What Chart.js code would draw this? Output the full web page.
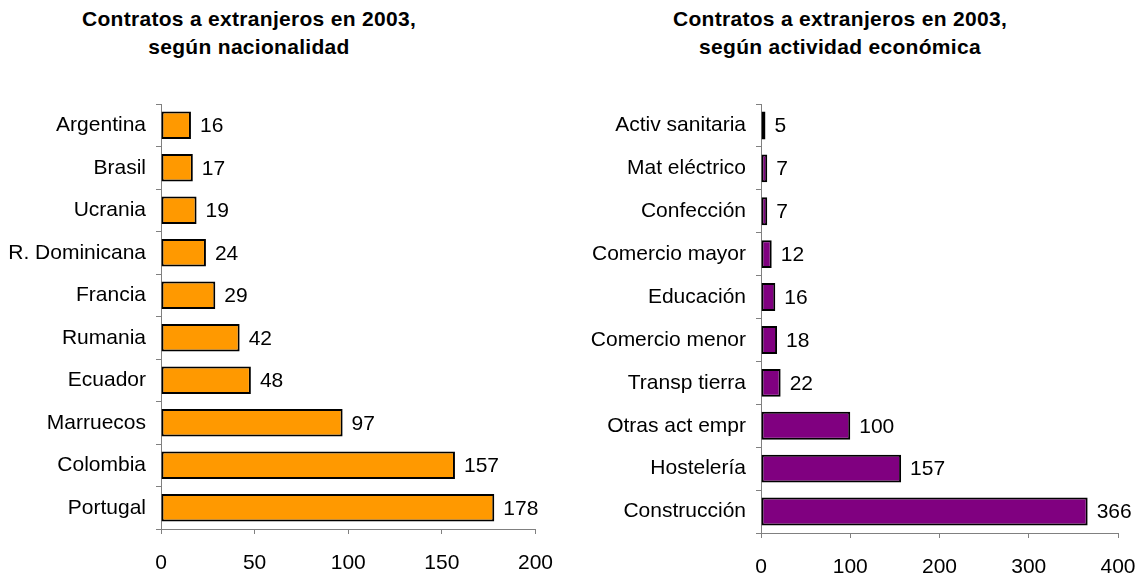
<!DOCTYPE html>
<html>
<head>
<meta charset="utf-8">
<script src="https://cdn.jsdelivr.net/npm/chart.js@4"></script>
<style>
  html, body { margin: 0; overflow: hidden; }
  body { background: #fff; width: 1141px; height: 574px; position: relative; font-family: "Liberation Sans", Arial, sans-serif; }
  .title { position: absolute; top: 5px; text-align: center; font-weight: bold; font-size: 21px; line-height: 28px; color: #000; letter-spacing: 0.3px; }
  canvas { position: absolute; top: 0; }
</style>
</head>
<body>
<div class="title" style="left:49px; width:400px;">Contratos a extranjeros en 2003,<br>según nacionalidad</div>
<div class="title" style="left:640px; width:400px;">Contratos a extranjeros en 2003,<br>según actividad económica</div>
<div id="wrap1" style="position:absolute; left:0; top:0; width:570px; height:574px;"><canvas id="chart-nac"></canvas></div>
<div id="wrap2" style="position:absolute; left:570px; top:0; width:591px; height:574px;"><canvas id="chart-act"></canvas></div>
<script>
// datos
const paises = ['Argentina', 'Brasil', 'Ucrania', 'R. Dominicana', 'Francia', 'Rumania', 'Ecuador', 'Marruecos', 'Colombia', 'Portugal'];
const contratosPais = [16, 17, 19, 24, 29, 42, 48, 97, 157, 178];
const actividades = ['Activ sanitaria', 'Mat eléctrico', 'Confección', 'Comercio mayor', 'Educación', 'Comercio menor', 'Transp tierra', 'Otras act empr', 'Hostelería', 'Construcción'];
const contratosAct = [5, 7, 7, 12, 16, 18, 22, 100, 157, 366];
const ticksPais = [0, 50, 100, 150, 200];
const ticksAct = [0, 100, 200, 300, 400];

const FONT = { family: '"Liberation Sans", Arial, sans-serif', size: 21 };
const GRIS = '#808080';

// etiquetas de valor al final de cada barra
const valueLabels = {
    id: 'valueLabels',
    afterDatasetsDraw(chart) {
        const ctx = chart.ctx;
        ctx.save();
        ctx.font = FONT.size + 'px ' + FONT.family;
        ctx.fillStyle = '#000';
        ctx.textAlign = 'left';
        ctx.textBaseline = 'middle';
        chart.getDatasetMeta(0).data.forEach((bar, i) => {
            ctx.fillText(chart.data.datasets[0].data[i], bar.x + 9, bar.y + 1);
        });
        ctx.restore();
    }
};

const makeChart = (id, labels, values, tickVals, color, yWidth, xHeight, padRight, maxVal) => {
    const stepSize = tickVals[1] - tickVals[0];
    return new Chart(document.getElementById(id).getContext('2d'), {
        type: 'bar',
        data: {
            labels: labels,
            datasets: [{
                data: values,
                backgroundColor: color,
                borderColor: '#000',
                borderWidth: 2,
                borderSkipped: false,
                barPercentage: 0.65,
                categoryPercentage: 1
            }]
        },
        options: {
            indexAxis: 'y',
            responsive: true,
            maintainAspectRatio: false,
            animation: false,
            layout: { padding: { top: 104, right: padRight, bottom: 0, left: 0 } },
            plugins: { legend: { display: false }, tooltip: { enabled: false } },
            scales: {
                x: {
                    min: 0,
                    max: maxVal,
                    ticks: { stepSize: stepSize, color: '#000', font: FONT, padding: 17 },
                    grid: { drawOnChartArea: false, tickLength: 5, color: GRIS },
                    border: { color: GRIS, width: 1 },
                    afterFit: (s) => { s.height = xHeight; }
                },
                y: {
                    ticks: { color: '#000', font: FONT, padding: 10 },
                    grid: { drawOnChartArea: false, tickLength: 5, color: GRIS, offset: true },
                    border: { color: GRIS, width: 1 },
                    afterFit: (s) => { s.width = yWidth; }
                }
            }
        },
        plugins: [valueLabels]
    });
};

makeChart('chart-nac', paises, contratosPais, ticksPais, '#FF9900', 161, 45, 34, 200);
makeChart('chart-act', actividades, contratosAct, ticksAct, '#800080', 191, 41, 43, 400);
</script>
</body>
</html>
